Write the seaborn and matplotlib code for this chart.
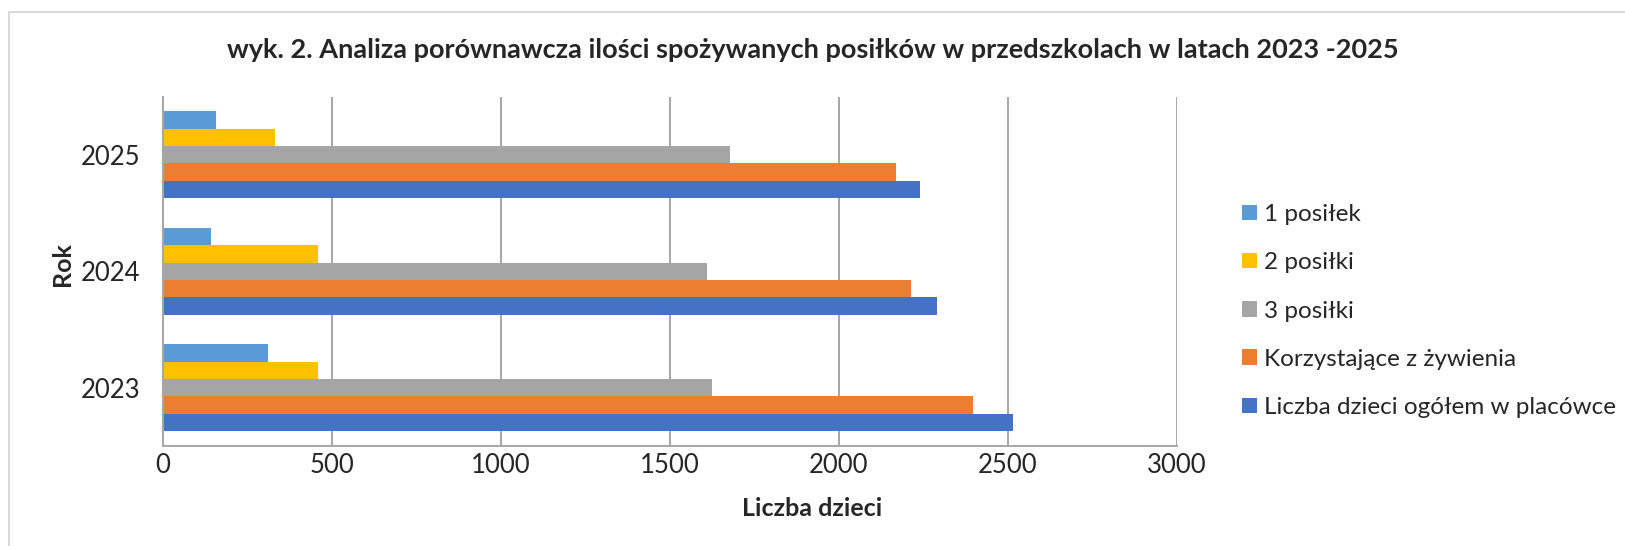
import pandas as pd
import matplotlib.pyplot as plt
import seaborn as sns
from matplotlib.patches import Rectangle

# values
years = ["2025", "2024", "2023"]
series = ["1 posiłek", "2 posiłki", "3 posiłki",
          "Korzystające z żywienia", "Liczba dzieci ogółem w placówce"]
jeden_posilek = [159, 143, 311]
dwa_posilki = [333, 459, 460]
trzy_posilki = [1677, 1610, 1626]
korzystajace = [2169, 2212, 2398]
liczba_dzieci = [2241, 2290, 2514]
colors = ["#5B9BD5", "#FFC000", "#A5A5A5", "#ED7D31", "#4472C4"]

rows = []
for name, vals in zip(series, [jeden_posilek, dwa_posilki, trzy_posilki,
                               korzystajace, liczba_dzieci]):
    for y, v in zip(years, vals):
        rows.append({"Rok": y, "Seria": name, "Liczba": v})
df = pd.DataFrame(rows)

sns.set_style("white")
plt.rcParams["font.family"] = ["Lato", "DejaVu Sans"]

fig = plt.figure(figsize=(16.25, 5.46), dpi=100)
ax = fig.add_axes([162.6 / 1625, 1 - 446 / 546, (1177 - 162.6) / 1625, (446 - 96.5) / 546])

sns.barplot(data=df, x="Liczba", y="Rok", hue="Seria", order=years,
            hue_order=series, palette=colors, orient="h", width=0.75,
            saturation=1, linewidth=0, ax=ax, legend=True)

ax.set_xlim(0, 3000)
ax.set_ylim(2.5, -0.5)
ax.set_xticks(range(0, 3001, 500))
ax.xaxis.grid(True, color="#A6A6A6", linewidth=1.4)
ax.set_axisbelow(True)
for s in ["top", "right"]:
    ax.spines[s].set_visible(False)
for s in ["left", "bottom"]:
    ax.spines[s].set_color("#A6A6A6")
    ax.spines[s].set_linewidth(1.4)

ax.tick_params(axis="x", length=0, labelsize=18.5, pad=5)
ax.tick_params(axis="y", length=0, labelsize=18.5, pad=16)
ax.set_yticks([-0.5, 0.5, 1.5, 2.5], minor=True)
ax.tick_params(axis="y", which="minor", length=6, color="#A6A6A6", width=1.4)

ax.set_xlabel("")
ax.set_ylabel("")
fig.text(0.5, 1 - 509 / 546, "Liczba dzieci", ha="center", va="center",
         fontsize=18, fontweight="bold")
fig.text(62 / 1625, 1 - 264 / 546, "Rok", ha="center", va="center",
         rotation=90, fontsize=18, fontweight="bold")
fig.text(0.5, 1 - 50 / 546,
         "wyk. 2. Analiza porównawcza ilości spożywanych posiłków w przedszkolach w latach 2023 -2025",
         ha="center", va="center", fontsize=19.5, fontweight="bold")

handles, labels = ax.get_legend_handles_labels()
ax.legend(handles, labels, loc="center left", bbox_to_anchor=(1242 / 1625, 1 - 311 / 546),
          bbox_transform=fig.transFigure, frameon=False, fontsize=17.5,
          handlelength=0.6, handleheight=0.6, handletextpad=0.3,
          labelspacing=1.12, borderaxespad=0, borderpad=0)

fig.patches.append(Rectangle((8.7 / 1625, -0.1), 1.2, 1 - 12 / 546 + 0.1,
                             transform=fig.transFigure, fill=False,
                             edgecolor="#D9D9D9", linewidth=1.4))

fig.savefig("out.png", dpi=100)
